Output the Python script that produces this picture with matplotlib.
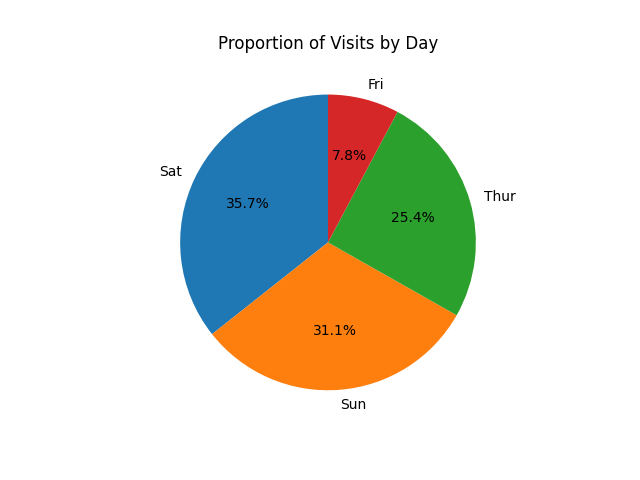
import matplotlib
matplotlib.use("Agg")
import matplotlib.pyplot as plt

days = ["Sat", "Sun", "Thur", "Fri"]
counts = [87, 76, 62, 19]

fig, ax = plt.subplots(figsize=(6.4, 4.8), dpi=100)
ax.pie(counts, labels=days, autopct="%1.1f%%", startangle=90)
ax.set_title("Proportion of Visits by Day")
fig.savefig("out.png")
